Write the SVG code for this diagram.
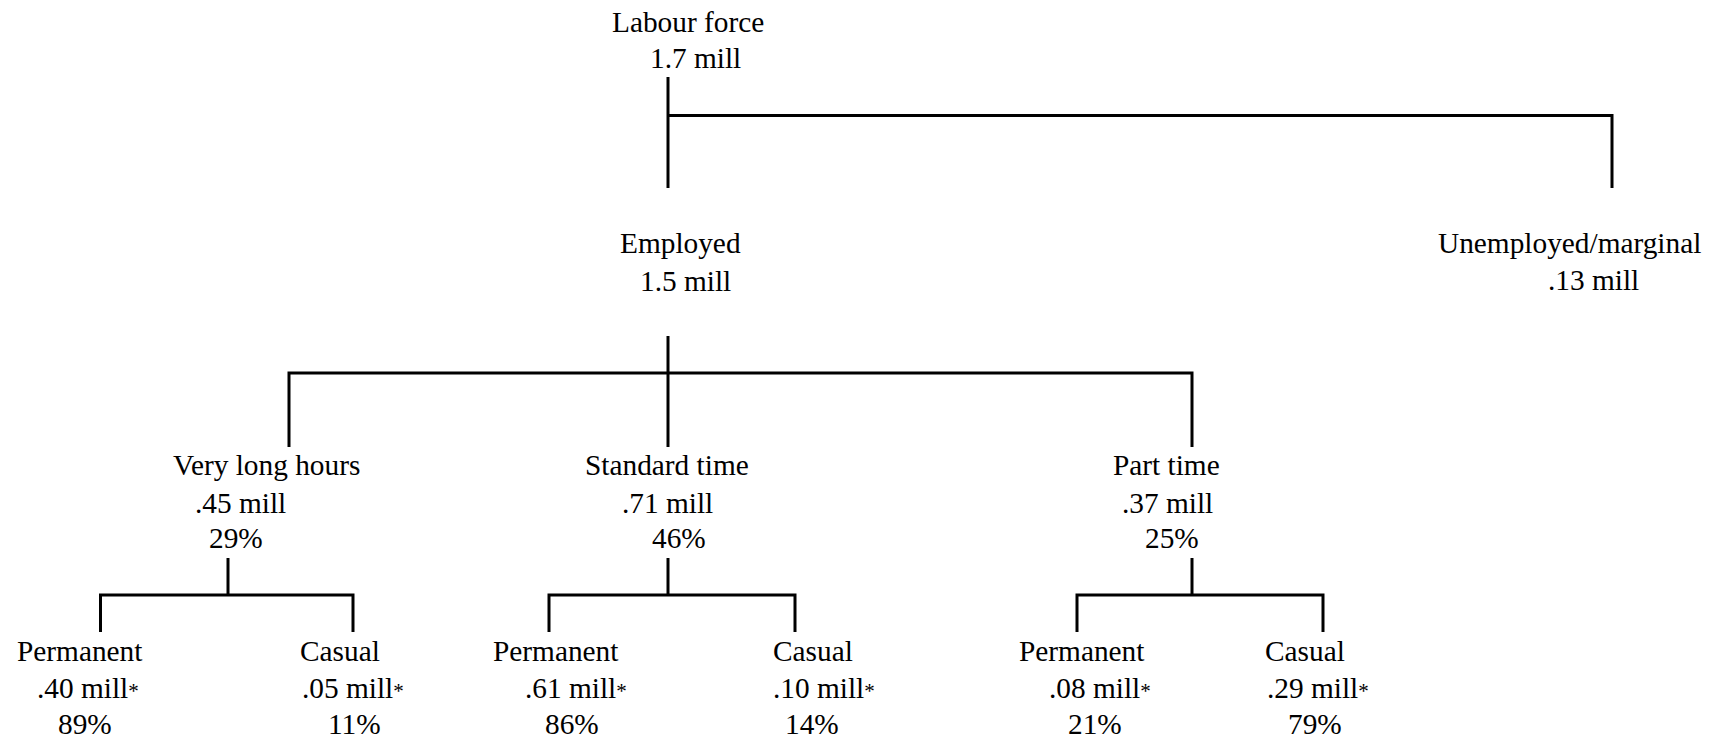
<svg xmlns="http://www.w3.org/2000/svg" width="1717" height="740" viewBox="0 0 1717 740">
<style>
.t text{font-size:29.33px;fill:#000}
.a{font-size:21px}
.c{fill:none;stroke:#000;stroke-width:3;stroke-linejoin:miter;stroke-linecap:butt}
</style>
<rect width="1717" height="740" fill="#fff"/>
<g id="connectors">
<path class="c" d="M668,77V188"/>
<path class="c" d="M668,115.5H1612V188"/>
<path class="c" d="M668,336V447"/>
<path class="c" d="M289,447V373H1192V447"/>
<path class="c" d="M228,558V595"/>
<path class="c" d="M100.5,632V595H353V632"/>
<path class="c" d="M668,558V595"/>
<path class="c" d="M549,632V595H795V632"/>
<path class="c" d="M1192,558V595"/>
<path class="c" d="M1077,632V595H1323V632"/>
</g>
<g class="t" font-family="'Liberation Serif', 'Times New Roman', serif">
<g id="labour-force"><text x="612" y="32">Labour force</text><text x="650" y="68">1.7 mill</text></g>
<g id="employed"><text x="620" y="253">Employed</text><text x="640" y="291">1.5 mill</text></g>
<g id="unemployed"><text x="1438" y="253">Unemployed/marginal</text><text x="1548" y="290">.13 mill</text></g>
<g id="very-long-hours"><text x="173" y="475">Very long hours</text><text x="195" y="513">.45 mill</text><text x="209" y="548">29%</text></g>
<g id="standard-time"><text x="585" y="475">Standard time</text><text x="622" y="513">.71 mill</text><text x="652" y="548">46%</text></g>
<g id="part-time"><text x="1113" y="475">Part time</text><text x="1122" y="513">.37 mill</text><text x="1145" y="548">25%</text></g>
<g id="vlh-permanent"><text x="17" y="661">Permanent</text><text x="37" y="698">.40 mill<tspan class="a">*</tspan></text><text x="58" y="734">89%</text></g>
<g id="vlh-casual"><text x="300" y="661">Casual</text><text x="302" y="698">.05 mill<tspan class="a">*</tspan></text><text x="328" y="734">11%</text></g>
<g id="st-permanent"><text x="493" y="661">Permanent</text><text x="525" y="698">.61 mill<tspan class="a">*</tspan></text><text x="545" y="734">86%</text></g>
<g id="st-casual"><text x="773" y="661">Casual</text><text x="773" y="698">.10 mill<tspan class="a">*</tspan></text><text x="785" y="734">14%</text></g>
<g id="pt-permanent"><text x="1019" y="661">Permanent</text><text x="1049" y="698">.08 mill<tspan class="a">*</tspan></text><text x="1068" y="734">21%</text></g>
<g id="pt-casual"><text x="1265" y="661">Casual</text><text x="1267" y="698">.29 mill<tspan class="a">*</tspan></text><text x="1288" y="734">79%</text></g>
</g>
</svg>
